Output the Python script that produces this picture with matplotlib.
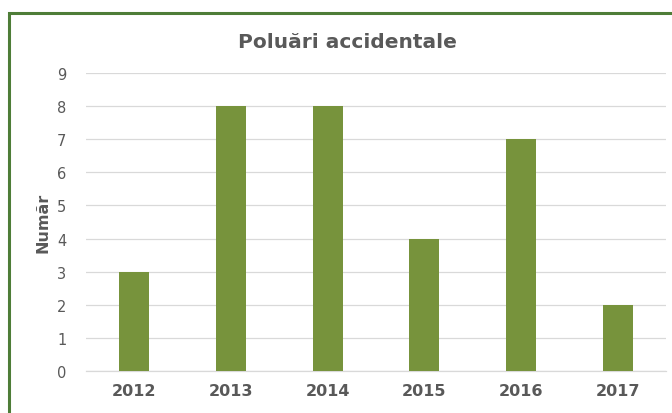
import matplotlib.pyplot as plt
from matplotlib.patches import Rectangle

ani = ["2012", "2013", "2014", "2015", "2016", "2017"]
numar = [3, 8, 8, 4, 7, 2]
y_ticks = [0, 1, 2, 3, 4, 5, 6, 7, 8, 9]

fig = plt.figure(figsize=(6.72, 4.14), dpi=100)
fig.patch.set_facecolor("white")

# chenarul verde (taiat la dreapta si jos)
fig.patches.append(Rectangle((9 / 672, -0.05), 1.2, (414 - 14) / 414 + 0.05,
                             transform=fig.transFigure, fill=False,
                             edgecolor="#4e7d38", linewidth=2.2))

ax = fig.add_axes([86 / 672, 42 / 414, 580 / 672, 298 / 414])
x = range(len(ani))
ax.bar(x, numar, width=0.31, color="#77933c", zorder=3)

ax.set_xlim(-0.5, len(ani) - 0.5)
ax.set_ylim(0, 9)
ax.set_yticks(y_ticks)
ax.set_xticks(list(x))
ax.set_xticklabels(ani, fontsize=11.5, fontweight="bold", color="#595959")
ax.tick_params(axis="y", labelsize=10.5, labelcolor="#595959", length=0, pad=14)
ax.tick_params(axis="x", length=0, pad=9)

ax.grid(axis="y", color="#d9d9d9", linewidth=0.9, zorder=0)
for s in ["top", "right", "left"]:
    ax.spines[s].set_visible(False)
ax.spines["bottom"].set_color("#d9d9d9")
ax.spines["bottom"].set_linewidth(0.9)

ax.set_ylabel("Număr", fontsize=11.5, fontweight="bold", color="#595959", labelpad=5)
fig.text(347 / 672, 1 - 42 / 414, "Poluări accidentale", ha="center", va="center",
         fontsize=14.5, fontweight="bold", color="#595959")

plt.savefig("out.png", dpi=100)
